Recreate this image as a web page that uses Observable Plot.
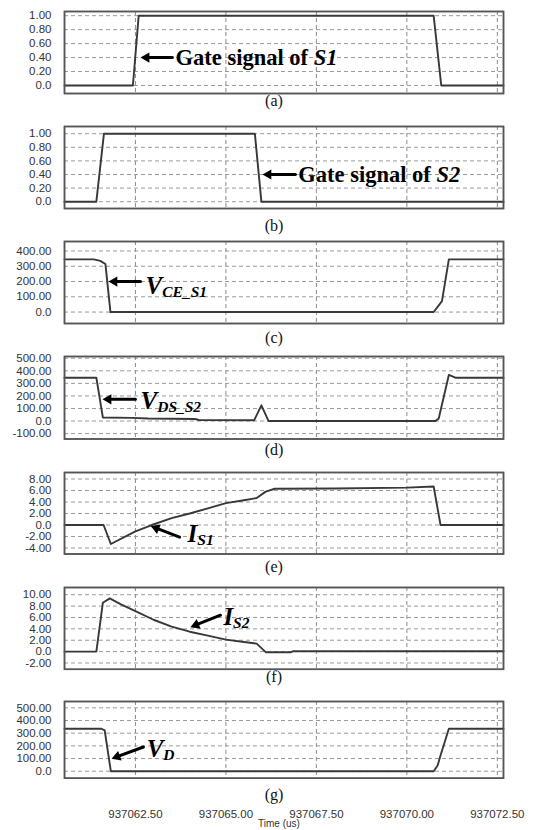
<!DOCTYPE html>
<html><head><meta charset="utf-8">
<script src="https://cdn.jsdelivr.net/npm/d3@7"></script>
<script src="https://cdn.jsdelivr.net/npm/@observablehq/plot@0.6"></script>
<style>
html,body{margin:0;padding:0;background:#fff;}
#chart{position:relative;width:536px;height:830px;overflow:hidden;background:#fff;}
.panel{position:absolute;left:0;}
.cap{position:absolute;font-family:"Liberation Serif","Times New Roman",serif;font-size:16px;color:#111;line-height:18px;white-space:nowrap;width:60px;text-align:center;}
.xlab{position:absolute;font-family:"Liberation Sans",Arial,sans-serif;font-size:10px;color:#333;line-height:11px;white-space:nowrap;width:80px;text-align:center;}
</style></head><body><div id="chart"></div>
<script>
// ---- time axis (us) ----
const xDomain = [937060.54, 937072.67];
const xTicks = [937062.5, 937065, 937067.5, 937070, 937072.5];

// ---- (a) gate signal of S1 ----
const tA = [937060.54, 937062.43, 937062.59, 937070.74, 937070.95, 937072.67];
const vA = [0, 0, 1, 1, 0, 0];
// ---- (b) gate signal of S2 ----
const tB = [937060.54, 937061.42, 937061.63, 937065.80, 937065.98, 937072.67];
const vB = [0, 0, 1, 1, 0, 0];
// ---- (c) V_CE_S1 ----
const tC = [937060.54, 937061.35, 937061.53, 937061.67, 937061.81, 937070.74, 937070.97, 937071.16, 937072.67];
const vC = [345, 345, 335, 315, 0, 0, 72, 345, 345];
// ---- (d) V_DS_S2 ----
const tD = [937060.54, 937061.42, 937061.60, 937062.40, 937062.85, 937064.15, 937064.25, 937065.78, 937065.98, 937066.18, 937070.79, 937070.88, 937071.16, 937071.34, 937072.67];
const vD = [345, 345, 28, 25, 20, 16, 8, 6, 125, 0, 0, 20, 367, 345, 345];
// ---- (e) I_S1 ----
const tE = [937060.54, 937061.62, 937061.82, 937062.50, 937062.95, 937063.50, 937064.00, 937064.50, 937065.00, 937065.50, 937065.85, 937066.10, 937066.35, 937068.00, 937070.00, 937070.74, 937070.93, 937072.67];
const vE = [0, 0, -3.3, -1.1, 0, 1.2, 2.0, 2.9, 3.8, 4.3, 4.7, 5.8, 6.3, 6.35, 6.5, 6.7, 0, 0];
// ---- (f) I_S2 ----
const tF = [937060.54, 937061.42, 937061.60, 937061.79, 937062.10, 937062.50, 937063.00, 937063.50, 937064.00, 937064.50, 937065.00, 937065.50, 937065.85, 937066.10, 937066.80, 937066.85, 937072.67];
const vF = [0, 0, 8.6, 9.35, 8.3, 7.1, 5.6, 4.4, 3.5, 2.8, 2.1, 1.7, 1.4, -0.1, -0.1, 0.05, 0.05];
// ---- (g) V_D ----
const tG = [937060.54, 937061.56, 937061.65, 937061.82, 937070.74, 937070.85, 937070.93, 937071.16, 937072.67];
const vG = [335, 335, 322, 0, 0, 45, 124, 335, 335];

// ---- y tick labels ----
const ticksA = [0, 0.2, 0.4, 0.6, 0.8, 1.0];
const ticksB = [0, 0.2, 0.4, 0.6, 0.8, 1.0];
const ticksC = [0, 100, 200, 300, 400];
const ticksD = [-100, 0, 100, 200, 300, 400, 500];
const ticksE = [-4, -2, 0, 2, 4, 6, 8];
const ticksF = [-2, 0, 2, 4, 6, 8, 10];
const ticksG = [0, 100, 200, 300, 400, 500];

// ---- captions ----
const captions = ["(a)", "(b)", "(c)", "(d)", "(e)", "(f)", "(g)"];
const xLabel = "Time (us)";

// ---- annotations (data coordinates) ----
const annA = {tail: [937063.52, 0.40], tip: [937062.64, 0.40], at: [937063.61, 0.40], main: "Gate signal of ", rest: "S1", sub: false};
const annB = {tail: [937066.92, 0.40], tip: [937066.01, 0.40], at: [937067.00, 0.40], main: "Gate signal of ", rest: "S2", sub: false};
const annC = {tail: [937062.64, 200], tip: [937061.755, 200], at: [937062.78, 170], main: "V", rest: "CE_S1", sub: true};
const annD = {tail: [937062.50, 173], tip: [937061.59, 173], at: [937062.64, 159], main: "V", rest: "DS_S2", sub: true};
const annE = {tail: [937063.72, -2.1], tip: [937062.92, -0.17], at: [937063.94, -1.57], main: "I", rest: "S1", sub: true};
const annF = {tail: [937064.85, 6.4], tip: [937064.02, 4.3], at: [937064.93, 6.1], main: "I", rest: "S2", sub: true};
const annG = {tail: [937062.72, 191], tip: [937061.84, 98], at: [937062.81, 178], main: "V", rest: "D", sub: true};

const panels = [
  {t: tA, v: vA, yTicks: ticksA, yDomain: [-0.115, 1.06], top: 10.5, bottom: 92.5, cap: 100.5, ann: annA},
  {t: tB, v: vB, yTicks: ticksB, yDomain: [-0.10, 1.106], top: 125.5, bottom: 207.5, cap: 226, ann: annB},
  {t: tC, v: vC, yTicks: ticksC, yDomain: [-75, 462], top: 240.5, bottom: 322.5, cap: 338.3, ann: annC},
  {t: tD, v: vD, yTicks: ticksD, yDomain: [-143, 514], top: 355.5, bottom: 438, cap: 450, ann: annD},
  {t: tE, v: vE, yTicks: ticksE, yDomain: [-5.04, 9.13], top: 471.5, bottom: 553, cap: 566.7, ann: annE},
  {t: tF, v: vF, yTicks: ticksF, yDomain: [-3.11, 11.27], top: 586.5, bottom: 668.3, cap: 677, ann: annF},
  {t: tG, v: vG, yTicks: ticksG, yDomain: [-55, 550], top: 701, bottom: 777.7, cap: 795, ann: annG, axis: true}
];

const W = 536, ML = 64, MR = 33;
const fmtY = d => Math.abs(d) < 1e-9 ? "0.0" : d.toFixed(2);
const serif = '"Liberation Serif","Times New Roman",serif';
const sans = '"Liberation Sans",Arial,sans-serif';
const NS = "http://www.w3.org/2000/svg";

function panelSize(p) {
  const mt = 6, mb = p.axis ? 50 : 6;
  return {mt, mb, H: (p.bottom - p.top) + mt + mb};
}

// underlay: dashed grid + frame only
function makeGrid(p) {
  const {mt, mb, H} = panelSize(p);
  return Plot.plot({
    width: W, height: H, marginLeft: ML, marginRight: MR, marginTop: mt, marginBottom: mb,
    x: {domain: xDomain, axis: null}, y: {domain: p.yDomain, axis: null},
    style: {fontFamily: sans, fontSize: "11.5px", color: "#333", background: "transparent", overflow: "visible"},
    marks: [
      Plot.ruleX(xTicks, {stroke: "#8a8a8a", strokeWidth: 1, strokeDasharray: "4,3"}),
      Plot.ruleY(p.yTicks, {stroke: "#9a9a9a", strokeWidth: 1, strokeDasharray: "4,3"}),
      Plot.frame({stroke: "#555", strokeWidth: 1.5})
    ]
  });
}

function makePanel(p) {
  const {mt, mb, H} = panelSize(p);
  const xs = d3.scaleLinear(xDomain, [ML, W - MR]);
  const ys = d3.scaleLinear(p.yDomain, [H - mb, mt]);
  const a = p.ann;
  const ang = Math.atan2(ys(a.tip[1]) - ys(a.tail[1]), xs(a.tip[0]) - xs(a.tail[0]));
  const r = 3.8;
  const tipOff = 2 * Math.sqrt(r * r * Math.PI / (Math.sqrt(3) * 3));
  const data = p.t.map((t, i) => ({t, v: p.v[i]}));
  const marks = [
    Plot.line(data, {x: "t", y: "v", stroke: "#383838", strokeWidth: 1.9}),
    Plot.axisY(p.yTicks, {tickSize: 0, tickPadding: 13, tickFormat: fmtY, label: null, fontSize: 11.5}),
    Plot.arrow([a], {x1: d => d.tail[0], y1: d => d.tail[1], x2: d => d.tip[0], y2: d => d.tip[1],
      stroke: "#000", strokeWidth: 3, headLength: 0, insetEnd: tipOff * 0.9}),
    Plot.dot([a], {x: d => d.tip[0], y: d => d.tip[1], symbol: "triangle", r, rotate: ang * 180 / Math.PI + 90,
      fill: "#000", dx: -tipOff * Math.cos(ang), dy: -tipOff * Math.sin(ang)}),
    Plot.text([a], {x: d => d.at[0], y: d => d.at[1], text: d => d.main + d.rest, textAnchor: "start", lineAnchor: "middle",
      fontFamily: serif, fontWeight: "bold", fontStyle: a.sub ? "italic" : "normal", fontSize: a.sub ? 25 : 22.5,
      fill: "#000"})
  ];
  if (p.axis) marks.push(Plot.axisX(xTicks, {tickSize: 0, tickPadding: 32, tickFormat: d => d.toFixed(2), label: null, fontSize: 11.5}));
  marks.push(Plot.frame({stroke: "#555", strokeWidth: 1.5}));
  const svg = Plot.plot({
    width: W, height: H, marginLeft: ML, marginRight: MR, marginTop: mt, marginBottom: mb,
    x: {domain: xDomain, axis: p.axis ? undefined : null},
    y: {domain: p.yDomain},
    style: {fontFamily: sans, fontSize: "11.5px", color: "#333", background: "transparent", overflow: "visible"},
    marks
  });
  // mixed styles inside the annotation text
  const t = svg.querySelector('g[aria-label="text"] text');
  if (t) {
    while (t.firstChild) t.removeChild(t.firstChild);
    const s1 = document.createElementNS(NS, "tspan");
    s1.textContent = a.main;
    t.appendChild(s1);
    const s2 = document.createElementNS(NS, "tspan");
    s2.textContent = a.rest;
    if (a.sub) { s2.style.fontSize = "15.5px"; s2.setAttribute("dy", "3"); }
    else s2.style.fontStyle = "italic";
    t.appendChild(s2);
  }
  return svg;
}

const chart = document.getElementById("chart");
panels.forEach((p) => {
  const {mt} = panelSize(p);
  const g = document.createElement("div");
  g.className = "panel";
  g.style.top = (p.top - mt) + "px";
  g.appendChild(makeGrid(p));
  chart.appendChild(g);
  const div = document.createElement("div");
  div.className = "panel";
  div.style.top = (p.top - mt) + "px";
  div.appendChild(makePanel(p));
  chart.appendChild(div);
});
panels.forEach((p, i) => {
  const cap = document.createElement("div");
  cap.className = "cap";
  cap.textContent = captions[i];
  cap.style.left = (274 - 30) + "px";
  cap.style.top = (p.cap - 9) + "px";
  chart.appendChild(cap);
});
const xl = document.createElement("div");
xl.className = "xlab";
xl.textContent = xLabel;
xl.style.left = (279 - 40) + "px";
xl.style.top = "818px";
chart.appendChild(xl);
</script></body></html>
